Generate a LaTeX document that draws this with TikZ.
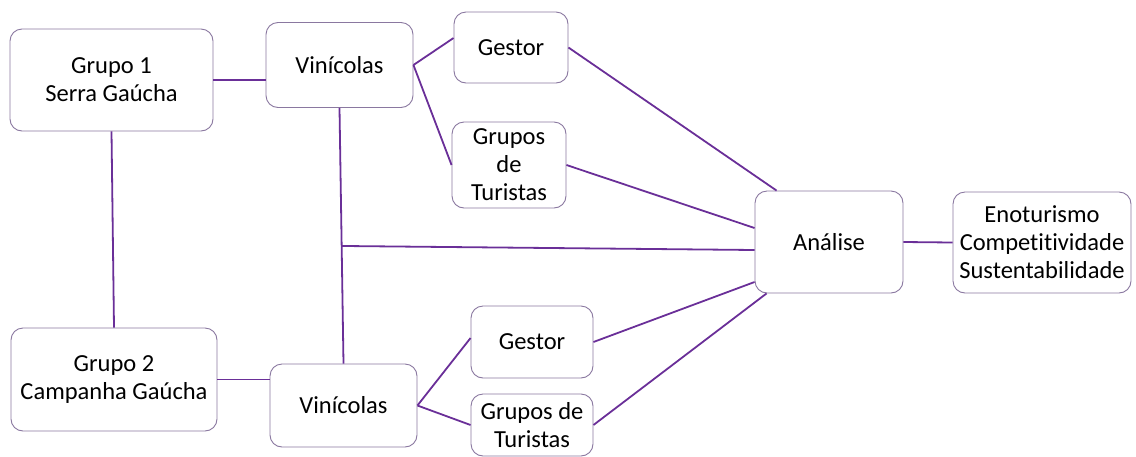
\documentclass[tikz,border=0pt]{standalone}
\usepackage{fontspec}
\setmainfont{Carlito}[Ligatures=NoCommon]
\usepackage{tikz}
\usetikzlibrary{calc}
\definecolor{roxo}{HTML}{6A2F98}
\definecolor{borda}{HTML}{8A78A0}
\tikzset{x=1pt, y=-1pt,
  bloco/.style={draw=borda, line width=0.9pt, rounded corners=12pt, fill=white,
    align=center, inner sep=2pt, font=\fontsize{24.5}{28}\selectfont},
  liga/.style={draw=roxo, line width=1.8pt}}

\begin{document}
\begin{tikzpicture}
                \useasboundingbox (0,0) rectangle (1136,456);
                \node[bloco, minimum width=203pt, minimum height=102pt] (g1)  at (111.5,80)  {Grupo 1\\Serra Gaúcha};
                \node[bloco, minimum width=147pt, minimum height=85pt]  (v1)  at (339.5,65)  {Vinícolas};
                \node[bloco, minimum width=114pt, minimum height=71pt]  (ge1) at (511,47.5)  {Gestor};
                \node[bloco, minimum width=114pt, minimum height=86pt]  (tu1) at (509,165)   {Grupos\\de\\Turistas};
                \node[bloco, minimum width=148pt, minimum height=102pt] (an)  at (829,242)   {Análise};
                \node[bloco, minimum width=178pt, minimum height=101pt] (en)  at (1042,242.5) {Enoturismo\\Competitividade\\Sustentabilidade};
                \node[bloco, minimum width=206pt, minimum height=103pt] (g2)  at (114,379.5) {Grupo 2\\Campanha Gaúcha};
                \node[bloco, minimum width=147pt, minimum height=83pt]  (v2)  at (343.5,405.5) {Vinícolas};
                \node[bloco, minimum width=122pt, minimum height=72pt]  (ge2) at (532,342)   {Gestor};
                \node[bloco, minimum width=122pt, minimum height=62pt]  (tu2) at (532,425)   {Grupos de\\Turistas};
                \coordinate (tj) at ($(v1.south)!0.54!(v2.north)$);
                % ligacoes
                \draw[liga] (g1.east) to (g1.east -| v1.west);
                \draw[liga] (g1.south) to (g2.north);
                \draw[liga] (v1.east) to ([yshift=9.5pt]ge1.west);
                \draw[liga] (v1.east) to (tu1.west);
                \draw[liga] (v1.south) to (v2.north);
                \draw[liga] (tj) to ([yshift=-8pt]an.west);
                \draw[liga] (ge1.east) to ([xshift=22pt]an.north west);
                \draw[liga] (tu1.east) to ([yshift=14pt]an.west);
                \draw[liga] (ge2.east) to ([yshift=-40pt]an.west);
                \draw[liga] (tu2.east) to ([xshift=12pt]an.south west);
                \draw[liga] (an.east) to (en.west);
                \draw[liga] (g2.east) to (g2.east -| v2.west);
                \draw[liga] (v2.east) to ([yshift=4pt]ge2.west);
                \draw[liga] (v2.east) to (tu2.west);
              \end{tikzpicture}
\end{document}
